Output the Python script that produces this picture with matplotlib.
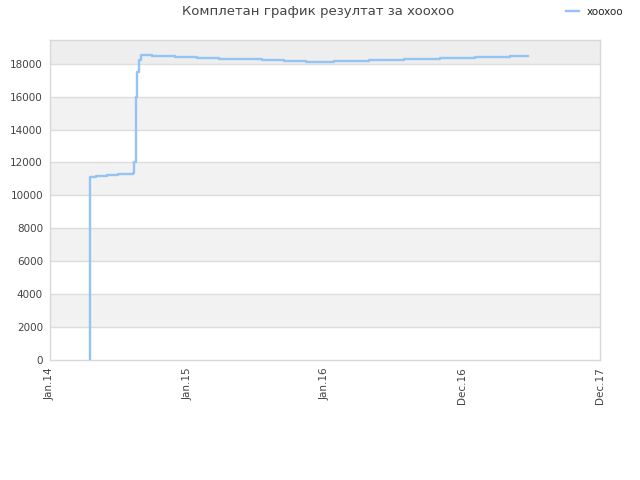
import matplotlib
matplotlib.use("Agg")
import matplotlib.pyplot as plt
import pandas as pd

title = "Комплетан график резултат за xooxoo"
series_name = "xooxoo"
dates = ["2014-04-17", "2014-04-17", "2014-05-03", "2014-06-01", "2014-06-30",
         "2014-08-09", "2014-08-12", "2014-08-16", "2014-08-18", "2014-08-21",
         "2014-08-25", "2014-08-31", "2014-09-29", "2014-11-29", "2015-01-26",
         "2015-03-26", "2015-05-20", "2015-07-18", "2015-09-14", "2015-11-12",
         "2016-01-25", "2016-04-27", "2016-07-29", "2016-11-01", "2017-02-02",
         "2017-05-06", "2017-06-23"]
values = [0, 11100, 11160, 11210, 11270,
          11340, 12000, 12300, 16000, 17500,
          18250, 18550, 18490, 18430, 18370,
          18310, 18270, 18210, 18150, 18090,
          18150, 18210, 18270, 18330, 18390,
          18450, 18450]
tick_dates = ["2014-01-01", "2015-01-01", "2016-01-01", "2016-12-31", "2017-12-31"]
tick_labels = ["Jan.14", "Jan.15", "Jan.16", "Dec.16", "Dec.17"]
y_ticks = [0, 2000, 4000, 6000, 8000, 10000, 12000, 14000, 16000, 18000]

x = pd.to_datetime(dates)
xt = pd.to_datetime(tick_dates)

fig = plt.figure(figsize=(6.4, 4.8), dpi=100)
ax = fig.add_axes([50/640, 120/480, 550/640, 320/480])
ymax = 19440

# alternating bands
for i, y0 in enumerate(y_ticks):
    y1 = y_ticks[i + 1] if i + 1 < len(y_ticks) else ymax
    if i % 2 == 1:
        col = "#eeeeee" if y0 == y_ticks[-1] else "#f2f2f2"
        ax.axhspan(y0, y1, color=col, zorder=0, lw=0)
for y in y_ticks[1:]:
    ax.axhline(y, color="#dddddd", lw=1, zorder=1)

ax.step(x, values, where="post", color="#94c4f4", lw=1.7, zorder=3, label=series_name)

ax.set_xlim(xt[0], xt[-1])
ax.set_ylim(0, ymax)
ax.set_yticks(y_ticks)
ax.set_yticklabels([str(v) for v in y_ticks])
ax.set_xticks(xt)
ax.set_xticklabels(tick_labels, rotation=90)
ax.tick_params(axis="both", length=0, labelsize=7.5, colors="#444444", pad=5)
for s in ax.spines.values():
    s.set_color("#d8d8d8")
    s.set_linewidth(1)

fig.text(318/640, 1 - 12/480, title, ha="center", va="center", fontsize=9.5, color="#444444")
fig.legend(loc="center", bbox_to_anchor=(595/640, 1 - 12/480), frameon=False,
           fontsize=7.5, handlelength=1.2, handletextpad=0.8, labelcolor="#222222")

fig.savefig("out.png", dpi=100)
